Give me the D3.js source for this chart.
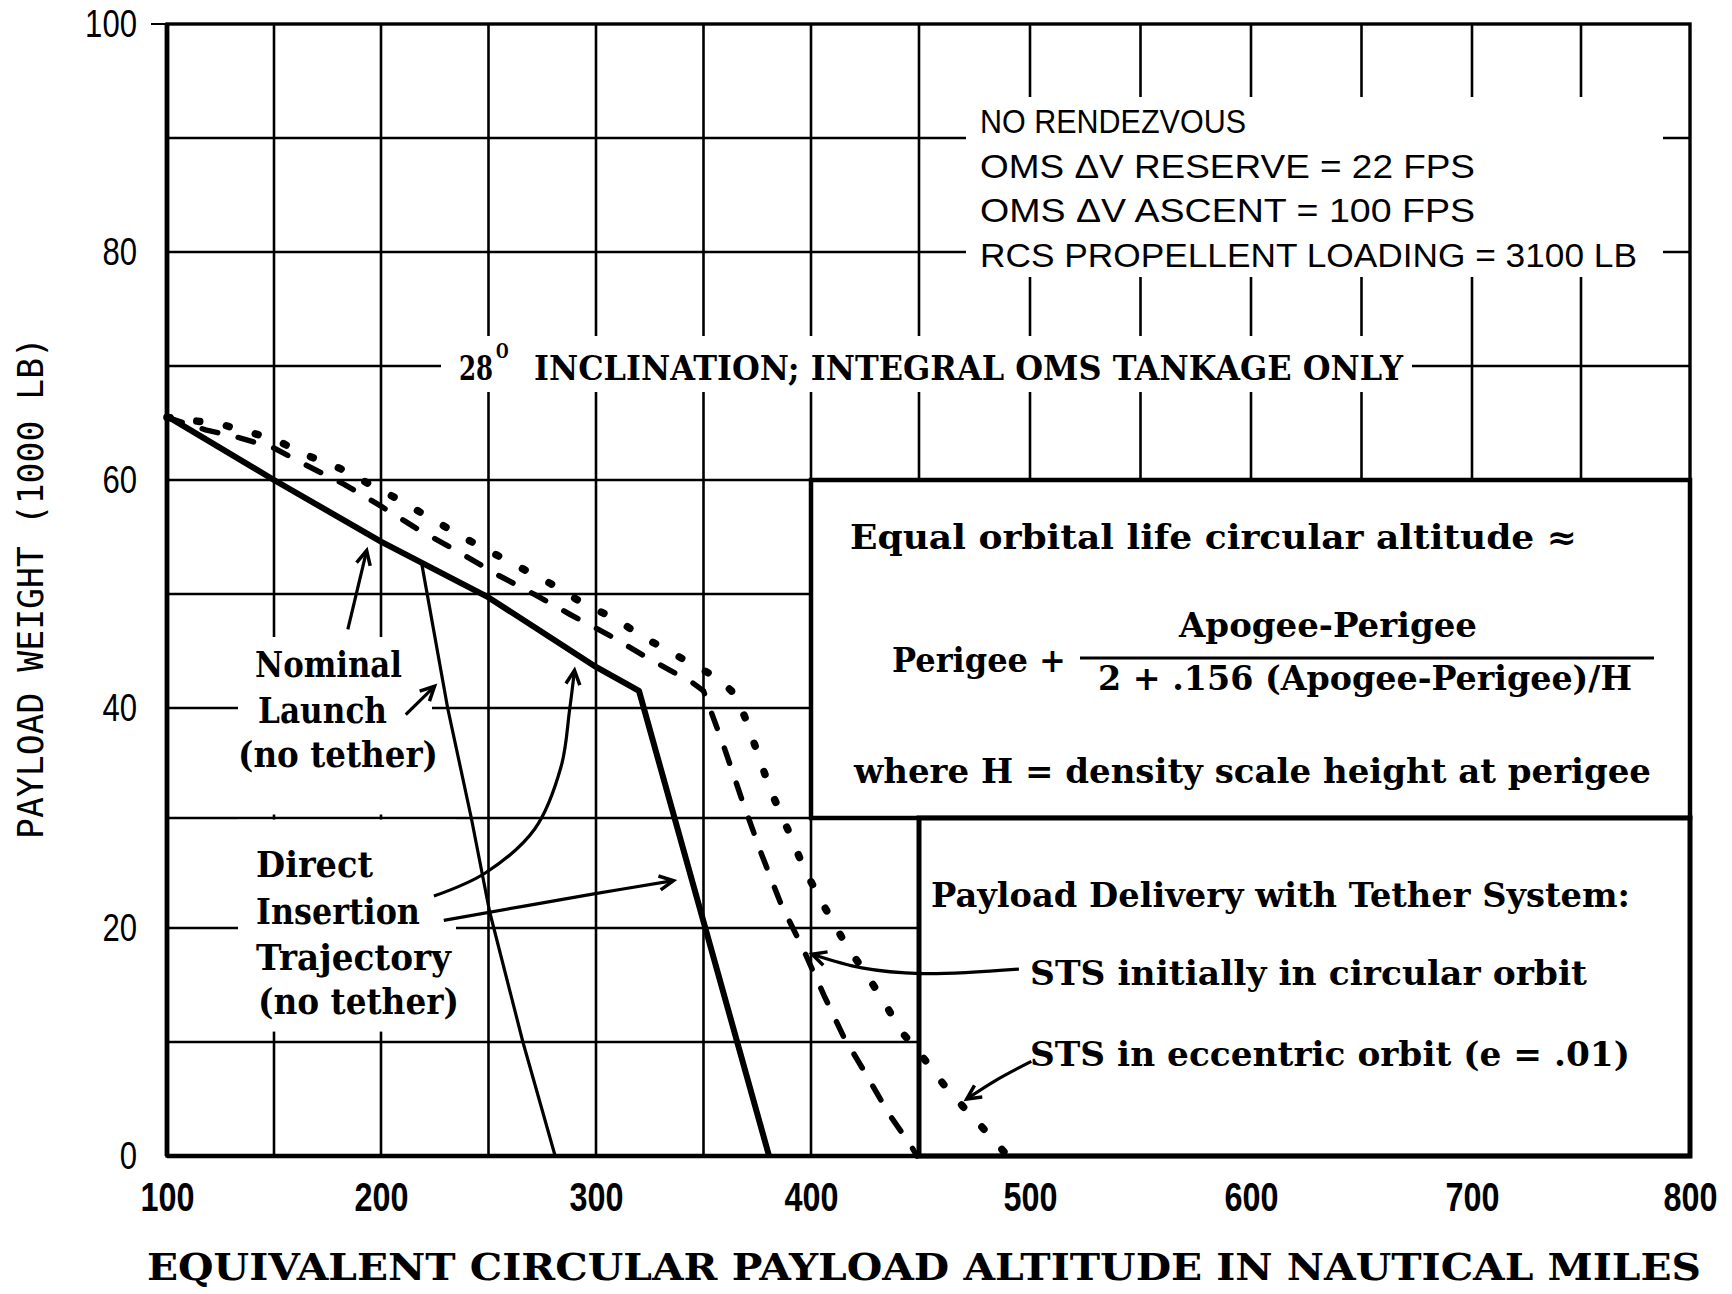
<!DOCTYPE html>
<html lang="en">
<head>
<meta charset="UTF-8">
<title>Payload weight vs equivalent circular altitude</title>
<script src="https://d3js.org/d3.v7.min.js"></script>
<style>
  body { margin: 0; background: #fff; }
  svg { display: block; }
  .serif { font-family: "DejaVu Serif", "Liberation Serif", serif; font-weight: bold; }
  .narrow { font-family: "Liberation Sans Narrow", "Liberation Sans", Arial, sans-serif; }
  .mono { font-family: "DejaVu Sans Mono", "Liberation Mono", monospace; }
</style>
</head>
<body>
<script>
// values (altitude in n.mi., payload in 1000 lb)
const xTicks = [100, 200, 300, 400, 500, 600, 700, 800];
const yTicks = [0, 20, 40, 60, 80, 100];
const xGrid = [150, 200, 250, 300, 350, 400, 450, 500, 550, 600, 650, 700, 750];
const yGrid = [10, 20, 30, 40, 50, 60, 70, 80, 90];

// nominal launch (no tether) - heavy solid
const nominalLaunch = [[100, 65.6], [150, 60], [200, 54.6], [250, 49.7], [300, 43.6], [320, 41.5], [380.5, 0]];

// direct insertion trajectory (no tether) - thin solid
const directInsertion = [[219, 52.6], [231, 40], [242, 30], [250.5, 21.5], [266, 10], [281, 0]];

// tether, STS initially in circular orbit - dashed
const tetherCircular = [[100, 65.5], [118, 64.4], [134, 63.7], [150, 62.8], [164, 61.4], [183, 59.6],
  [200, 57.7], [217, 55.7], [236, 53.7], [255, 51.6], [272, 49.9], [288, 48.2], [306, 46.4],
  [324, 44.4], [345, 42.2], [350, 41.5], [360, 36.2], [368, 31.6], [377, 26.7], [386, 22.2],
  [396, 18.3], [406, 14.1], [415, 10.5], [426, 7.0], [436, 3.7], [446, 1.0], [449, 0]];

// tether, STS in eccentric orbit (e = .01) - dotted
const tetherEccentric = [[100, 65.5], [125, 64.9], [150, 63.6], [165, 62.2], [181, 61.0], [208, 58.3],
  [238, 55.0], [265, 52.3], [279, 50.9], [293, 49.3], [310, 47.7], [322, 46.2], [334, 45.0],
  [344, 43.9], [356, 42.7], [363, 41.5], [369, 39.3], [375, 36.0], [381, 32.6], [390, 28.6],
  [397, 25.3], [406, 22.0], [416, 18.6], [425, 16.1], [434, 13.5], [441, 11.1], [452, 8.6],
  [461, 6.3], [470, 4.3], [479, 2.4], [490, 0]];

// pointer arrows, in chart units
const arrowNominal = [[184.5, 46.9], [193.3, 53.8]];
const arrowLaunch = [[211.5, 39.4], [224.9, 41.9]];
const arrowDirect = [[224.6, 22.9], [248.5, 25.0], [271.5, 29.0], [283.8, 34.7], [287.7, 39.8], [290, 43.3]];
const arrowInsertion = [[229.2, 20.7], [299, 23.1], [336, 24.3]];
const arrowCircular = [[495, 16.4], [451, 16.0], [423.5, 16.5], [400.5, 17.7]];
const arrowEccentric = [[500.6, 8.3], [485.2, 6.7], [471.5, 5.0]];

const W = 1732, H = 1294;

// the scanned grid is a little uneven, so the scales follow it piecewise
const x = d3.scaleLinear()
  .domain([100, 200, 300, 400, 450, 500, 600, 700, 800])
  .range([167, 381, 596, 811, 919, 1030, 1251, 1472, 1690]);
const y = d3.scaleLinear()
  .domain([0, 20, 40, 60, 80, 100])
  .range([1156, 928, 708, 480, 252, 24]);

const svg = d3.select("body").append("svg")
  .attr("width", W)
  .attr("height", H);

svg.append("rect").attr("width", W).attr("height", H).attr("fill", "#fff");

const defs = svg.append("defs");
defs.append("marker")
  .attr("id", "head")
  .attr("viewBox", "0 0 20 20")
  .attr("refX", 17).attr("refY", 10)
  .attr("markerWidth", 20).attr("markerHeight", 20)
  .attr("markerUnits", "userSpaceOnUse")
  .attr("orient", "auto")
  .style("overflow", "visible")
  .append("path")
  .attr("d", "M3,3 L17,10 L3,17")
  .attr("fill", "none")
  .attr("stroke", "#000")
  .attr("stroke-width", 3.5);

// grid
svg.append("g").selectAll("line").data(xGrid).join("line")
  .attr("x1", d => x(d)).attr("x2", d => x(d))
  .attr("y1", y(100)).attr("y2", y(0))
  .attr("stroke", "#000").attr("stroke-width", 2.6);

svg.append("g").selectAll("line").data(yGrid).join("line")
  .attr("x1", x(100)).attr("x2", x(800))
  .attr("y1", d => y(d)).attr("y2", d => y(d))
  .attr("stroke", "#000").attr("stroke-width", 2.4);

// white patches where the lettering breaks the grid
const knockouts = [
  [966, 97, 697, 180],    // conditions block
  [441, 336, 971, 56],    // inclination line
  [238, 637, 194, 177.5], // nominal launch label
  [238, 819.6, 218, 212]  // direct insertion label
];
svg.append("g").selectAll("rect").data(knockouts).join("rect")
  .attr("x", d => d[0]).attr("y", d => d[1])
  .attr("width", d => d[2]).attr("height", d => d[3])
  .attr("fill", "#fff");

// formula box and tether box
svg.append("rect")
  .attr("x", x(400)).attr("y", y(60))
  .attr("width", x(800) - x(400)).attr("height", y(30) - y(60))
  .attr("fill", "#fff").attr("stroke", "#000").attr("stroke-width", 4.5);

svg.append("rect")
  .attr("x", x(450)).attr("y", y(30))
  .attr("width", x(800) - x(450)).attr("height", y(0) - y(30))
  .attr("fill", "#fff").attr("stroke", "#000").attr("stroke-width", 5);

// frame
svg.append("rect")
  .attr("x", x(100)).attr("y", y(100))
  .attr("width", x(800) - x(100)).attr("height", y(0) - y(100))
  .attr("fill", "none").attr("stroke", "#000").attr("stroke-width", 3.4);
svg.append("line")
  .attr("x1", x(100)).attr("x2", x(100)).attr("y1", y(100)).attr("y2", y(0))
  .attr("stroke", "#000").attr("stroke-width", 4.8);
svg.append("line")
  .attr("x1", x(100)).attr("x2", x(800)).attr("y1", y(0)).attr("y2", y(0))
  .attr("stroke", "#000").attr("stroke-width", 4.6);
svg.append("line")
  .attr("x1", x(100) - 16).attr("x2", x(100)).attr("y1", y(100)).attr("y2", y(100))
  .attr("stroke", "#000").attr("stroke-width", 2);

// curves
const line = d3.line().x(d => x(d[0])).y(d => y(d[1]));

svg.append("path").datum(nominalLaunch)
  .attr("d", line)
  .attr("fill", "none").attr("stroke", "#000")
  .attr("stroke-width", 6).attr("stroke-linejoin", "round");

svg.append("path").datum(directInsertion)
  .attr("d", line)
  .attr("fill", "none").attr("stroke", "#000")
  .attr("stroke-width", 3.2).attr("stroke-linejoin", "round");

svg.append("path").datum(tetherCircular)
  .attr("d", line)
  .attr("fill", "none").attr("stroke", "#000")
  .attr("stroke-width", 5.5).attr("stroke-linecap", "round")
  .attr("stroke-dasharray", "16 21");

svg.append("path").datum(tetherEccentric)
  .attr("d", line)
  .attr("fill", "none").attr("stroke", "#000")
  .attr("stroke-width", 7.5).attr("stroke-linecap", "round")
  .attr("stroke-dasharray", "3 27");

// arrows
const arrowLine = d3.line().x(d => x(d[0])).y(d => y(d[1])).curve(d3.curveCatmullRom);
[arrowNominal, arrowLaunch, arrowDirect, arrowInsertion, arrowCircular, arrowEccentric].forEach(a => {
  svg.append("path").datum(a)
    .attr("d", arrowLine)
    .attr("fill", "none").attr("stroke", "#000")
    .attr("stroke-width", 3.2)
    .attr("marker-end", "url(#head)");
});

// axes
const yAxis = svg.append("g")
  .attr("transform", `translate(${x(100)},0)`)
  .call(d3.axisLeft(y).tickValues(yTicks).tickSize(0).tickPadding(30));
yAxis.select(".domain").remove();
yAxis.selectAll("text")
  .attr("class", "narrow")
  .attr("font-size", 38)
  .attr("fill", "#000")
  .attr("textLength", d => String(d).length * 17.3)
  .attr("lengthAdjust", "spacingAndGlyphs");

const xAxis = svg.append("g")
  .attr("transform", `translate(0,${y(0)})`)
  .call(d3.axisBottom(x).tickValues(xTicks).tickSize(0).tickPadding(27));
xAxis.select(".domain").remove();
xAxis.selectAll("text")
  .attr("class", "narrow")
  .attr("font-size", 40)
  .attr("font-weight", "bold")
  .attr("fill", "#000")
  .attr("textLength", d => String(d).length * 18)
  .attr("lengthAdjust", "spacingAndGlyphs");

// lettering
const put = (txt, px, py, size, len, cls) =>
  svg.append("text")
    .attr("class", cls)
    .attr("x", px).attr("y", py)
    .attr("font-size", size)
    .attr("textLength", len)
    .attr("lengthAdjust", "spacingAndGlyphs")
    .text(txt);

svg.append("text")
  .attr("class", "mono")
  .attr("transform", "translate(43,839) rotate(-90)")
  .attr("font-size", 36)
  .attr("textLength", 502)
  .attr("lengthAdjust", "spacingAndGlyphs")
  .text("PAYLOAD WEIGHT (1000 LB)");

put("EQUIVALENT CIRCULAR PAYLOAD ALTITUDE IN NAUTICAL MILES", 147, 1280, 38, 1554, "serif");

put("NO RENDEZVOUS", 980, 133, 34, 266, "narrow");
put("OMS  \u0394V RESERVE  =  22 FPS", 980, 178, 34, 495, "narrow");
put("OMS  \u0394V ASCENT  =  100 FPS", 980, 222, 34, 495, "narrow");
put("RCS PROPELLENT LOADING  =  3100 LB", 980, 267, 34, 657, "narrow");

// "28" with the raised O used as the degree sign, squeezed to the lettering width
const deg = svg.append("text")
  .attr("class", "serif")
  .attr("transform", "translate(459,380) scale(0.72,1)")
  .attr("font-size", 34)
  .text("28");
deg.append("tspan")
  .attr("font-size", 20)
  .attr("dx", 4).attr("dy", -22)
  .text("O");
put("INCLINATION;  INTEGRAL OMS TANKAGE ONLY", 534, 380, 34, 869, "serif");

put("Equal orbital life circular altitude  \u2248", 850, 549, 33, 727, "serif");
put("Apogee-Perigee", 1179, 637, 33, 298, "serif");
put("Perigee +", 892, 672, 33, 174, "serif");
svg.append("line")
  .attr("x1", 1080).attr("x2", 1654).attr("y1", 658).attr("y2", 658)
  .attr("stroke", "#000").attr("stroke-width", 3);
put("2 + .156 (Apogee-Perigee)/H", 1098, 690, 33, 534, "serif");
put("where H =  density scale height at perigee", 854, 783, 33, 797, "serif");

put("Payload Delivery with Tether System:", 931, 907, 33, 699, "serif");
put("STS initially in circular orbit", 1030, 985, 33, 557, "serif");
put("STS in eccentric orbit (e = .01)", 1030, 1066, 33, 600, "serif");

put("Nominal", 255, 677, 35, 147, "serif");
put("Launch", 258, 723, 35, 129, "serif");
put("(no tether)", 238, 767, 35, 200, "serif");

put("Direct", 256, 877, 35, 117, "serif");
put("Insertion", 256, 924, 35, 164, "serif");
put("Trajectory", 256, 970, 35, 195, "serif");
put("(no tether)", 258, 1014, 35, 201, "serif");
</script>
</body>
</html>
